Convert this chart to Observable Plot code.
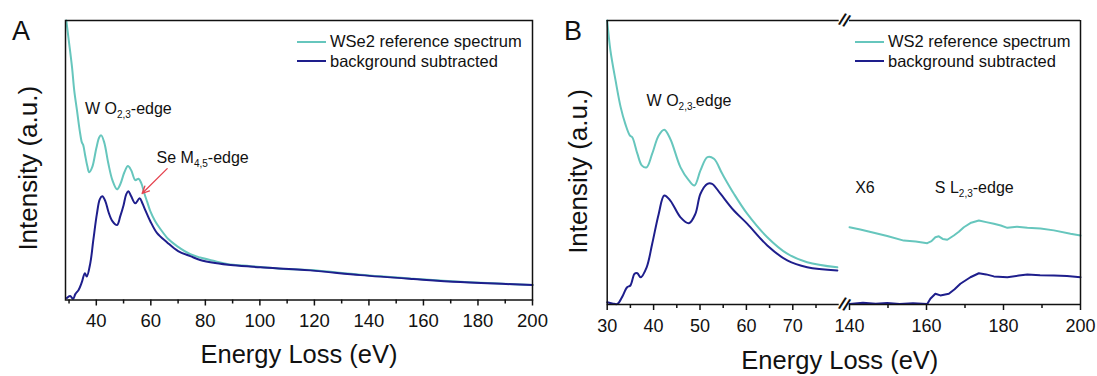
<!DOCTYPE html>
<html>
<head>
<meta charset="utf-8">
<script src="https://cdn.jsdelivr.net/npm/d3@7"></script>
<script src="https://cdn.jsdelivr.net/npm/@observablehq/plot@0.6"></script>
<style>
  html, body { margin: 0; padding: 0; background: #fff; }
  body { font-family: "Liberation Sans", Arial, sans-serif; color: #111; }
  #page { position: relative; width: 1097px; height: 376px; overflow: hidden; background: #fff; }
  .panel { position: absolute; top: 0; }
  .txt { position: absolute; white-space: nowrap; line-height: 1; color: #111; }
  .sub { font-size: 10px; position: relative; top: 4px; }
  .legend { position: absolute; font-size: 16.5px; line-height: 19.5px; color: #111; white-space: nowrap; }
  .legend .sw { display: inline-block; width: 29px; height: 0; border-top: 2px solid; vertical-align: middle; margin-right: 4px; position: relative; top: -1px; }
  .letter { position: absolute; font-size: 27px; line-height: 1; color: #111; }
</style>
</head>
<body>
<div id="page"></div>
<script>
// ---------- colours ----------
const tealColor = "#66C6BD";
const navyColor = "#1E1E8C";
const arrowColor = "#E5434F";

// ---------- Panel A : WSe2 ----------
const energyA_ref = [29.0, 29.9, 31.1, 31.9, 32.9, 33.9, 34.7, 35.2, 35.9, 36.7, 37.4, 38.5, 40.0, 41.1, 41.8, 42.9, 44.4, 45.9, 47.6, 48.8, 50.3, 51.6, 52.8, 54.3, 55.5, 56.5, 57.6, 58.7, 59.8, 61.6, 63.5, 66.4, 69.6, 74.5, 78.1, 83.6, 88.0, 96.5, 107.5, 118.5, 136.9, 156.3, 173.6, 200];
const intensityA_ref = [100, 92.9, 83.2, 75.0, 67.9, 60.7, 56.4, 55.4, 51.8, 47.9, 45.7, 47.5, 54.3, 58.2, 58.9, 56.4, 48.9, 42.9, 39.6, 41.4, 45.7, 47.9, 46.4, 42.9, 43.4, 41.8, 38.2, 35.0, 31.8, 28.2, 25.4, 21.8, 19.3, 16.4, 15.2, 13.9, 12.9, 12.1, 11.2, 10.7, 9.0, 7.6, 6.5, 5.4];
const energyA_sub = [29.2, 30.4, 31.5, 32.3, 33.5, 34.7, 35.8, 36.5, 37.8, 38.9, 40.2, 41.3, 42.2, 43.3, 44.5, 45.9, 47.6, 48.8, 50.0, 51.0, 51.8, 52.8, 54.3, 55.9, 56.9, 58.0, 59.8, 62.3, 65.9, 70.0, 74.5, 78.1, 83.6, 90.3, 100.2, 118.5, 136.9, 156.3, 173.6, 200];
const intensityA_sub = [0.7, 1.4, 0.4, 2.1, 3.6, 6.4, 9.6, 8.4, 13.2, 21.4, 30.7, 36.1, 37.1, 35.4, 31.4, 28.2, 26.8, 30.0, 33.9, 37.9, 38.9, 37.1, 34.6, 36.4, 34.6, 32.1, 28.2, 23.9, 20.7, 17.5, 15.7, 14.3, 13.2, 12.4, 11.7, 10.6, 8.9, 7.5, 6.4, 5.4];
const ticksA_major = [40, 60, 80, 100, 120, 140, 160, 180, 200];
const ticksA_minor = [30, 50, 70, 90, 110, 130, 150, 170, 190];
const domainA = [28.7, 200];
const arrowA = [{x1: 66.0, y1: 47.0, x2: 56.8, y2: 38.1}];
const legendA = ["WSe2 reference spectrum", "background subtracted"];

// ---------- Panel B : WS2 (broken axis) ----------
const energyB_refLow = [30.0, 30.7, 31.8, 32.9, 33.9, 34.9, 35.4, 36.5, 37.5, 38.5, 39.7, 41.1, 42.3, 43.6, 45.8, 47.6, 48.8, 50.1, 51.6, 53.0, 54.8, 57.3, 60.2, 64.5, 68.8, 73.1, 79.6];
const intensityB_refLow = [100, 89.4, 78.9, 69.5, 63.6, 59.5, 58.9, 53.1, 48.9, 48.3, 53.1, 59.5, 61.5, 58.3, 48.3, 43.7, 41.9, 47.2, 51.9, 51.3, 46.0, 39.0, 31.9, 23.7, 17.9, 14.9, 13.1];
const energyB_subLow = [30.0, 31.1, 32.2, 33.2, 34.3, 35.0, 35.9, 36.5, 37.2, 38.5, 39.7, 41.1, 42.3, 43.6, 45.8, 47.6, 49.0, 50.1, 51.6, 52.6, 54.4, 57.3, 60.2, 64.5, 68.8, 73.1, 79.6];
const intensityB_subLow = [0.8, 0.4, 0.2, 2.6, 6.1, 6.7, 10.8, 11.0, 9.6, 13.1, 21.4, 31.9, 38.4, 36.6, 30.7, 28.6, 31.9, 39.0, 42.5, 42.5, 39.0, 33.1, 28.4, 20.8, 15.5, 13.1, 12.0];
const energyB_refHigh = [140.0, 142.8, 145.5, 149.8, 154.1, 157.2, 160.2, 161.3, 162.3, 163.2, 164.2, 165.4, 167.1, 168.4, 169.7, 171.6, 173.6, 175.5, 177.5, 179.3, 181.0, 183.5, 186.2, 189.6, 193.1, 197.4, 200];
const intensityB_refHigh = [27.2, 26.4, 25.5, 24.1, 22.5, 22.2, 21.6, 22.3, 23.7, 24.0, 23.1, 22.8, 24.3, 25.6, 27.2, 28.8, 29.6, 29.0, 28.4, 27.8, 27.0, 27.4, 27.0, 26.8, 26.1, 24.9, 24.3];
const energyB_subHigh = [140.0, 143.5, 146.8, 149.8, 153.0, 156.5, 160.2, 161.0, 162.3, 163.6, 165.8, 167.3, 168.8, 171.4, 173.6, 175.5, 177.5, 181.0, 184.0, 186.2, 189.5, 193.1, 196.5, 200];
const intensityB_subHigh = [0.2, 0.6, 0.3, 0.5, 0.2, 0.4, 0.2, 2.0, 3.8, 3.2, 3.8, 5.4, 7.3, 9.6, 11.0, 10.6, 9.9, 9.6, 10.2, 10.6, 10.3, 10.2, 10.0, 9.6];
const ticksB_major = [30, 40, 50, 60, 70, 140, 160, 180, 200];
const ticksB_minor = [35, 45, 55, 65, 75, 150, 170, 190];
const domainB = [30, 80, 140, 200];      // piecewise domain: [30–80] // [140–200]
const segmentsB = [{from: 30, to: 80}, {from: 140, to: 200}];
const breakAtB = [110];                   // the "//" marks sit in the gap
const legendB = ["WS2 reference spectrum", "background subtracted"];

// ---------- annotations (data coordinates) ----------
const annotationsA = [
  {x: 36.0, y: 66.0, html: 'W O<span class="sub">2,3</span>-edge'},
  {x: 62.3, y: 48.7, html: 'Se M<span class="sub">4,5</span>-edge'}
];
const annotationsB = [
  {x: 38.6, y: 69.5, html: 'W O<span class="sub">2,3-</span>edge'},
  {x: 141.6, y: 39.0, html: 'X6'},
  {x: 162.3, y: 39.0, html: 'S L<span class="sub">2,3</span>-edge'}
];

const pts = (xs, ys) => xs.map((x, i) => ({x, y: ys[i]}));
const font = "'Liberation Sans', Arial, sans-serif";
const page = document.getElementById("page");

// outward tick marks hanging below the y = 0 baseline (length given in pixels,
// converted to y units with the panel's pixels-per-unit)
const ticksBelow = (values, lenPx, pxPerUnit) =>
  Plot.ruleX(values, {x: d => d, y1: 0, y2: -lenPx / pxPerUnit, stroke: "#111", strokeWidth: 1.5});

// ---------- Plot A ----------
const heightA = 376, topA = 20, bottomA = 76.5;
const pxA = (heightA - topA - bottomA) / 100;
const plotA = Plot.plot({
  width: 548, height: heightA,
  marginLeft: 65, marginRight: 16, marginTop: topA, marginBottom: bottomA,
  x: {domain: domainA},
  y: {domain: [0, 100], axis: null},
  style: {fontFamily: font, color: "#111", background: "transparent", overflow: "visible"},
  marks: [
    Plot.line(pts(energyA_ref, intensityA_ref), {x: "x", y: "y", stroke: tealColor, strokeWidth: 2, curve: "catmull-rom"}),
    Plot.line(pts(energyA_sub, intensityA_sub), {x: "x", y: "y", stroke: navyColor, strokeWidth: 2, curve: "catmull-rom"}),
    Plot.frame({stroke: "#111", strokeWidth: 1.5}),
    ticksBelow(ticksA_minor, 4, pxA),
    ticksBelow(ticksA_major, 6, pxA),
    Plot.axisX({ticks: ticksA_major, tickSize: 0, tickPadding: 14, fontSize: 18.5, label: null, fill: "#111"}),
    Plot.arrow(arrowA, {x1: "x1", y1: "y1", x2: "x2", y2: "y2", stroke: arrowColor, strokeWidth: 1.3, headLength: 9, headAngle: 50}),
    Plot.text(["Energy Loss (eV)"], {frameAnchor: "bottom", textAnchor: "middle", lineAnchor: "middle", dy: 55.3, fontSize: 25.5}),
    Plot.text(["Intensity (a.u.)"], {frameAnchor: "left", textAnchor: "middle", lineAnchor: "middle", rotate: -90, dx: -36.8, dy: 8, fontSize: 26})
  ]
});
const wrapA = document.createElement("div");
wrapA.className = "panel"; wrapA.style.left = "0px";
wrapA.appendChild(plotA);
page.appendChild(wrapA);

// ---------- Plot B ----------
const leftB = 548;
const pxB = (304 - 20) / 100;
const plotB = Plot.plot({
  width: 549, height: 376,
  marginLeft: 58.7, marginRight: 17, marginTop: 20, marginBottom: 72,
  x: {type: "linear", domain: domainB, range: [58.7, 290.7, 301, 532]},
  y: {domain: [0, 100], range: [304, 20], axis: null},
  style: {fontFamily: font, color: "#111", background: "transparent", overflow: "visible"},
  marks: [
    Plot.line(pts(energyB_refLow, intensityB_refLow), {x: "x", y: "y", stroke: tealColor, strokeWidth: 2, curve: "catmull-rom"}),
    Plot.line(pts(energyB_subLow, intensityB_subLow), {x: "x", y: "y", stroke: navyColor, strokeWidth: 2, curve: "catmull-rom"}),
    Plot.line(pts(energyB_refHigh, intensityB_refHigh), {x: "x", y: "y", stroke: tealColor, strokeWidth: 2}),
    Plot.line(pts(energyB_subHigh, intensityB_subHigh), {x: "x", y: "y", stroke: navyColor, strokeWidth: 2}),
    Plot.ruleX([domainB[0], domainB[3]], {stroke: "#111", strokeWidth: 1.5}),
    Plot.ruleY(segmentsB, {y: 0, x1: "from", x2: "to", stroke: "#111", strokeWidth: 1.5}),
    Plot.ruleY(segmentsB, {y: 100, x1: "from", x2: "to", stroke: "#111", strokeWidth: 1.5}),
    Plot.text(breakAtB, {x: d => d, y: 0, text: () => "//", fontSize: 17, fontWeight: "bold", rotate: 22, lineAnchor: "middle", fill: "#111"}),
    Plot.text(breakAtB, {x: d => d, y: 100, text: () => "//", fontSize: 17, fontWeight: "bold", rotate: 22, lineAnchor: "middle", fill: "#111"}),
    ticksBelow(ticksB_minor, 4, pxB),
    ticksBelow(ticksB_major, 6, pxB),
    Plot.axisX({ticks: ticksB_major, tickSize: 0, tickPadding: 14.5, fontSize: 18, label: null, fill: "#111"}),
    Plot.text(["Energy Loss (eV)"], {frameAnchor: "bottom", textAnchor: "middle", lineAnchor: "middle", dy: 56, dx: -4, fontSize: 25.5}),
    Plot.text(["Intensity (a.u.)"], {frameAnchor: "left", textAnchor: "middle", lineAnchor: "middle", rotate: -90, dx: -28.5, dy: 9, fontSize: 26})
  ]
});
const wrapB = document.createElement("div");
wrapB.className = "panel"; wrapB.style.left = leftB + "px";
wrapB.appendChild(plotB);
page.appendChild(wrapB);

// ---------- annotations positioned through the plots' scales ----------
function addAnnotations(plot, offsetX, list, fontSize) {
  const sx = plot.scale("x"), sy = plot.scale("y");
  for (const a of list) {
    const d = document.createElement("div");
    d.className = "txt";
    d.style.fontSize = fontSize + "px";
    d.style.left = (offsetX + sx.apply(a.x)) + "px";
    d.style.top = (sy.apply(a.y) - 0.8465 * fontSize) + "px";
    d.innerHTML = a.html;
    page.appendChild(d);
  }
}
addAnnotations(plotA, 0, annotationsA, 16);
addAnnotations(plotB, leftB, annotationsB, 16);

// ---------- legends ----------
function addLegend(labels, left, top) {
  const box = document.createElement("div");
  box.className = "legend";
  box.style.left = left + "px";
  box.style.top = top + "px";
  const colors = [tealColor, navyColor];
  labels.forEach((t, i) => {
    const row = document.createElement("div");
    const sw = document.createElement("span");
    sw.className = "sw"; sw.style.borderColor = colors[i];
    row.appendChild(sw);
    row.appendChild(document.createTextNode(t));
    box.appendChild(row);
  });
  page.appendChild(box);
}
addLegend(legendA, 297, 32);
addLegend(legendB, 855, 32);

// ---------- panel letters ----------
[["A", 12], ["B", 564]].forEach(([t, x]) => {
  const d = document.createElement("div");
  d.className = "letter"; d.textContent = t;
  d.style.left = x + "px"; d.style.top = "18px";
  page.appendChild(d);
});
</script>
</body>
</html>
